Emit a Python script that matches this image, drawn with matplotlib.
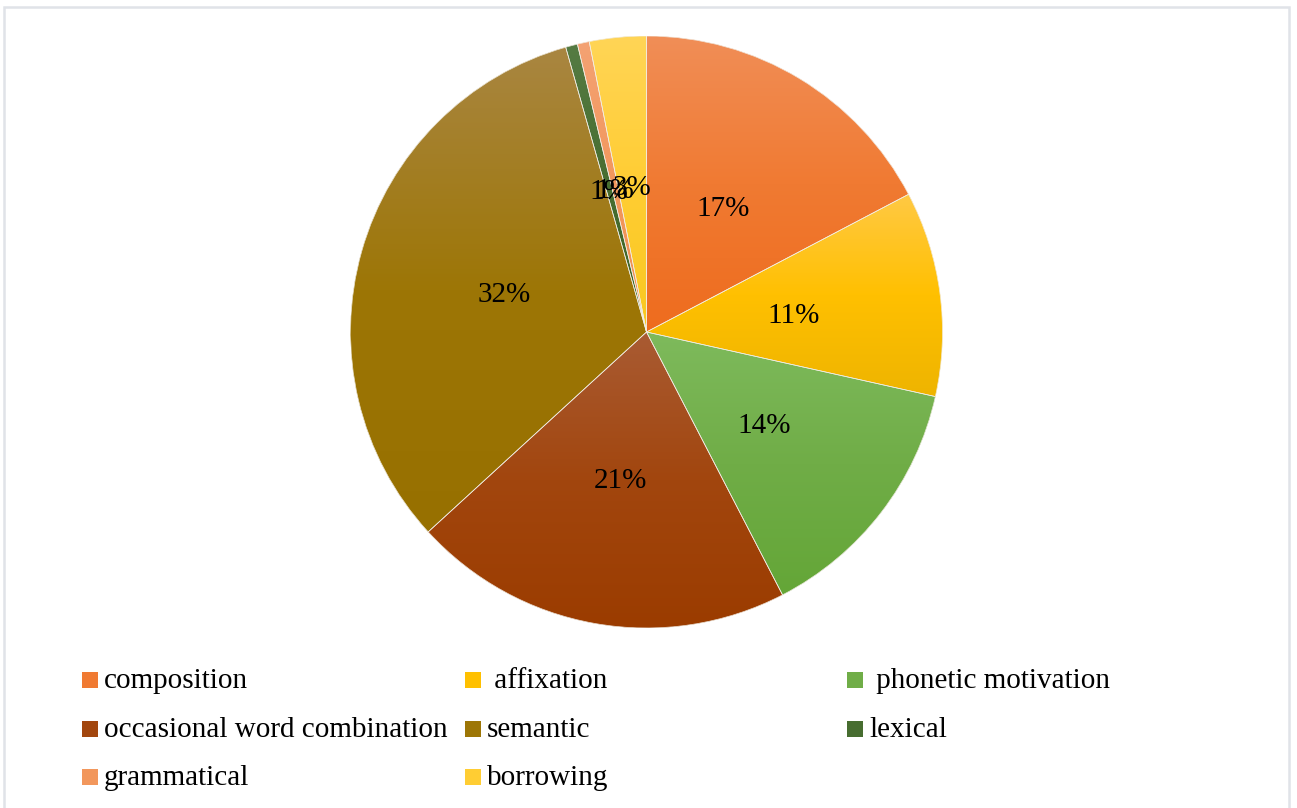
import matplotlib
matplotlib.use("Agg")
import matplotlib.pyplot as plt
import numpy as np
from matplotlib.colors import to_rgba
from matplotlib.patches import Rectangle, Wedge

plt.rcParams['font.family'] = ['Liberation Serif', 'DejaVu Serif']

# data
labels = ['composition', ' affixation', ' phonetic motivation',
          'occasional word combination', 'semantic', 'lexical',
          'grammatical', 'borrowing']
values = [17.3, 11.2, 13.9, 20.8, 32.4, 0.65, 0.65, 3.1]

# gradient colours (top, middle, bottom) for each slice
tops = ['#F18E57', '#FFC944', '#7EBA5C', '#A95B33', '#A98641', '#557B43', '#F4A273', '#FFD556']
mids = ['#F07A32', '#FFC000', '#70AD47', '#A2460E', '#9D7606', '#476D30', '#F2975C', '#FFCD33']
bottoms = ['#EE6C1E', '#EEB400', '#64A637', '#9B3C00', '#977000', '#3F6427', '#F0904F', '#F9C820']

W, H = 1297, 808
fig = plt.figure(figsize=(W / 100, H / 100), dpi=100)

# light frame
fig.patches.append(Rectangle((4 / W, -0.05), 1285 / W, (801 / H) + 0.05,
                             transform=fig.transFigure, fill=False,
                             edgecolor='#E0E3E8', linewidth=1.8))

cx, cy, r = 646.5, 332, 296
ax = fig.add_axes([(cx - r) / W, (H - cy - r) / H, 2 * r / W, 2 * r / H])

wedges, texts, autotexts = ax.pie(values, startangle=90, counterclock=False,
                                  colors=mids, autopct='%.0f%%', pctdistance=0.5,
                                  wedgeprops=dict(linewidth=0),
                                  textprops=dict(fontsize=21, color='black'))

# vertical gradient fill clipped to every wedge
t = np.linspace(0, 1, 256)[:, None]
for w, c0, cm, c1 in zip(wedges, tops, mids, bottoms):
    bb = w.get_path().get_extents()
    a, m, b = (np.array(to_rgba(c)) for c in (c0, cm, c1))
    img = np.where(t < 0.5, a + (m - a) * (t / 0.5), m + (b - m) * ((t - 0.5) / 0.5))
    im = ax.imshow(img[:, None, :], extent=(bb.x0, bb.x1, bb.y0, bb.y1), origin='upper',
                   aspect='auto', zorder=1.5, interpolation='bilinear')
    im.set_clip_path(w)
    ax.add_patch(Wedge(w.center, w.r, w.theta1, w.theta2, facecolor='none',
                       edgecolor='#F2EEE6', linewidth=0.5, zorder=1.6))

for txt in autotexts:
    txt.set_zorder(3)
    x, y = txt.get_position()
    txt.set_position((x, y - 0.012))

ax.set_xlim(-1, 1)
ax.set_ylim(-1, 1)
ax.set_aspect('equal')
ax.axis('off')

# legend, 3 columns, row-major like Excel
col_x = [82, 465, 847]
row_base = [688, 737, 785]
box = 16
for i, (lab, col) in enumerate(zip(labels, mids)):
    rw, cl = divmod(i, 3)
    x, yb = col_x[cl], row_base[rw]
    fig.patches.append(Rectangle((x / W, (H - yb) / H), box / W, box / H,
                                 transform=fig.transFigure, facecolor=col,
                                 edgecolor='none'))
    fig.text((x + box + 6) / W, (H - yb) / H, lab, fontsize=21,
             va='baseline', ha='left', color='black')

fig.savefig('out.png', dpi=100)
